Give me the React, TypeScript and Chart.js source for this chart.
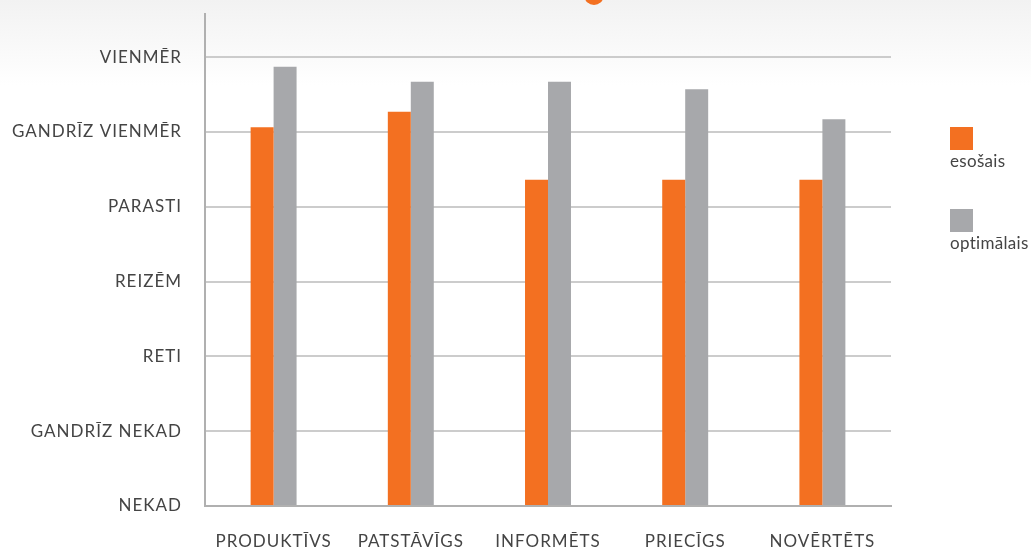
import React, { useEffect, useRef } from "react";
import { Chart, registerables } from "chart.js";

Chart.register(...registerables);

const categories = ["PRODUKTĪVS", "PATSTĀVĪGS", "INFORMĒTS", "PRIECĪGS", "NOVĒRTĒTS"];
const tickLabels = ["NEKAD", "GANDRĪZ NEKAD", "RETI", "REIZĒM", "PARASTI", "GANDRĪZ VIENMĒR", "VIENMĒR"];
const esosais = [5.06, 5.27, 4.36, 4.36, 4.36];
const optimalais = [5.87, 5.67, 5.67, 5.57, 5.17];
const seriesNames = ["esošais", "optimālais"];
const seriesColors = ["#f37021", "#a7a8ab"];

const FONT = "Lato, 'Open Sans', sans-serif";
const TEXT = "#444444";

const spacing = {
  id: "spacing",
  beforeInit(chart: any) {
    chart.ctx.letterSpacing = "1px";
  },
  beforeDraw(chart: any) {
    chart.ctx.letterSpacing = "1px";
  },
};

const sideLegend = {
  id: "sideLegend",
  afterDraw(chart: any) {
    const ctx = chart.ctx;
    ctx.save();
    ctx.letterSpacing = "0.3px";
    ctx.font = `17px ${FONT}`;
    ctx.textBaseline = "middle";
    ctx.textAlign = "left";
    chart.data.datasets.forEach((ds: any, i: number) => {
      const x = 950;
      const y = 127 + i * 82;
      ctx.fillStyle = ds.backgroundColor;
      ctx.fillRect(x, y, 23, 23);
      ctx.fillStyle = TEXT;
      ctx.fillText(ds.label, x, y + 35);
    });
    ctx.restore();
  },
};

const decor = {
  id: "decor",
  beforeDraw(chart: any) {
    const ctx = chart.ctx;
    ctx.save();
    ctx.fillStyle = "#f37021";
    ctx.beginPath();
    ctx.ellipse(594, -4, 9.5, 9, 0, 0, Math.PI);
    ctx.fill();
    ctx.restore();
  },
};

export default function App() {
  const ref = useRef<HTMLCanvasElement | null>(null);
  useEffect(() => {
    document.body.style.margin = "0";
    const chart = new Chart(ref.current as HTMLCanvasElement, {
      type: "bar",
      data: {
        labels: categories,
        datasets: [
          { label: seriesNames[0], data: esosais, backgroundColor: seriesColors[0], barPercentage: 1, categoryPercentage: 0.335 },
          { label: seriesNames[1], data: optimalais, backgroundColor: seriesColors[1], barPercentage: 1, categoryPercentage: 0.335 },
        ],
      },
      options: {
        animation: false,
        responsive: false,
        maintainAspectRatio: false,
        layout: { padding: { top: 14, right: 140, left: 0, bottom: 0 } },
        plugins: { legend: { display: false }, tooltip: { enabled: false }, title: { display: false } },
        scales: {
          x: {
            grid: { display: false, drawTicks: false },
            border: { display: true, color: "#b0b0b0", width: 2 },
            ticks: { color: TEXT, font: { family: FONT, size: 17 }, padding: 25, maxRotation: 0, autoSkip: false },
            afterFit: (s: any) => { s.height = 41; s.paddingLeft = 0; s.paddingRight = 0; },
          },
          y: {
            min: 0,
            max: 6.575,
            afterBuildTicks: (s: any) => { s.ticks = tickLabels.map((_, i) => ({ value: i })); },
            grid: { color: "#cccccc", lineWidth: 2, drawTicks: false },
            border: { display: true, color: "#b0b0b0", width: 2 },
            ticks: {
              color: TEXT,
              font: { family: FONT, size: 17 },
              padding: 23,
              callback: (v: any) => tickLabels[v] ?? "",
            },
            afterFit: (s: any) => { s.width = 205; s.paddingTop = 0; s.paddingBottom = 0; },
          },
        },
      },
      plugins: [spacing, decor, sideLegend],
    });
    return () => chart.destroy();
  }, []);
  return (
    <div style={{ position: "relative", width: 1031, height: 547, background: "linear-gradient(#f2f2f2 0px, #fbfbfb 60px, #ffffff 85px)" }}>
      <canvas ref={ref} width={1031} height={547} style={{ display: "block" }} />
    </div>
  );
}
